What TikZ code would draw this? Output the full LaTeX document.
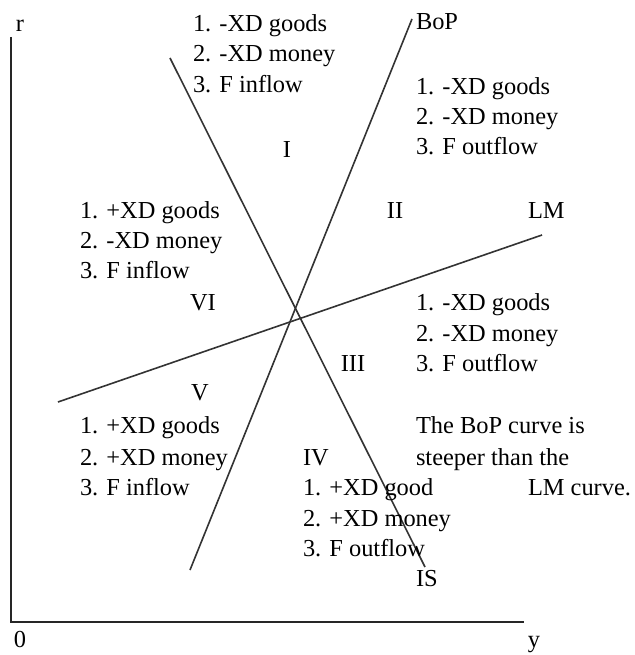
\documentclass[tikz,border=0pt]{standalone}
\usepackage{fontspec}
\setmainfont{Liberation Serif}
\begin{document}
\begin{tikzpicture}[x=1pt,y=-1pt,
  lbl/.style={inner sep=0pt,outer sep=0pt,anchor=base west,font=\fontsize{24.4}{30}\selectfont},
  clbl/.style={lbl,anchor=base},
  curve/.style={draw=black!80,line width=1.6pt},
  axis/.style={draw=black!85,line width=2pt}]
\useasboundingbox (0,0) rectangle (634,655);
% axes
\coordinate (otop) at (10.7,37);
\coordinate (orig) at (10.7,622);
\coordinate (xend) at (524,622);
\draw[axis] (otop) -- (orig) -- (xend);
% curves
\coordinate (IStop) at (170,58);
\coordinate (ISbot) at (425,567);
\coordinate (BoPtop) at (412,19);
\coordinate (BoPbot) at (190,570);
\coordinate (LMleft) at (58,402);
\coordinate (LMright) at (542,235);
\draw[curve] (IStop) -- (ISbot);
\draw[curve] (BoPtop) -- (BoPbot);
\draw[curve] (LMleft) -- (LMright);
% axis labels
\node[clbl] (r) at (20,32) {r};
\node[clbl] (zero) at (20,647) {0};
\node[clbl] (y) at (534,647) {y};
% curve labels
\node[lbl] (bop) at (416,30) {BoP};
\node[lbl] (lm) at (528,218) {LM};
\node[lbl] (is) at (416,586) {IS};
% region I
\node[lbl] (a1) at (193,32) {1. -XD goods};
\node[lbl] (a2) at (193,62) {2. -XD money};
\node[lbl] (a3) at (193,93) {3. F inflow};
\node[clbl] (rI) at (287,158) {I};
% region II
\node[lbl] (b1) at (416,95) {1. -XD goods};
\node[lbl] (b2) at (416,125) {2. -XD money};
\node[lbl] (b3) at (416,155) {3. F outflow};
\node[clbl] (rII) at (395,218) {II};
% region III
\node[lbl] (c1) at (416,310) {1. -XD goods};
\node[lbl] (c2) at (416,341) {2. -XD money};
\node[lbl] (c3) at (416,371) {3. F outflow};
\node[clbl] (rIII) at (353,371) {III};
% region VI
\node[lbl] (f1) at (80,218) {1. +XD goods};
\node[lbl] (f2) at (80,248) {2. -XD money};
\node[lbl] (f3) at (80,278) {3. F inflow};
\node[clbl] (rVI) at (203,310) {VI};
% region V
\node[clbl] (rV) at (200,400) {V};
\node[lbl] (e1) at (80,433) {1. +XD goods};
\node[lbl] (e2) at (80,465) {2. +XD money};
\node[lbl] (e3) at (80,495) {3. F inflow};
% region IV
\node[lbl] (rIV) at (303,465) {IV};
\node[lbl] (d1) at (303,495) {1. +XD good};
\node[lbl] (d2) at (303,526) {2. +XD money};
\node[lbl] (d3) at (303,556) {3. F outflow};
% note
\node[lbl] (n1) at (416,433) {The BoP curve is};
\node[lbl] (n2) at (416,465) {steeper than the};
\node[lbl] (n3) at (528,495) {LM curve.};
\end{tikzpicture}
\end{document}
